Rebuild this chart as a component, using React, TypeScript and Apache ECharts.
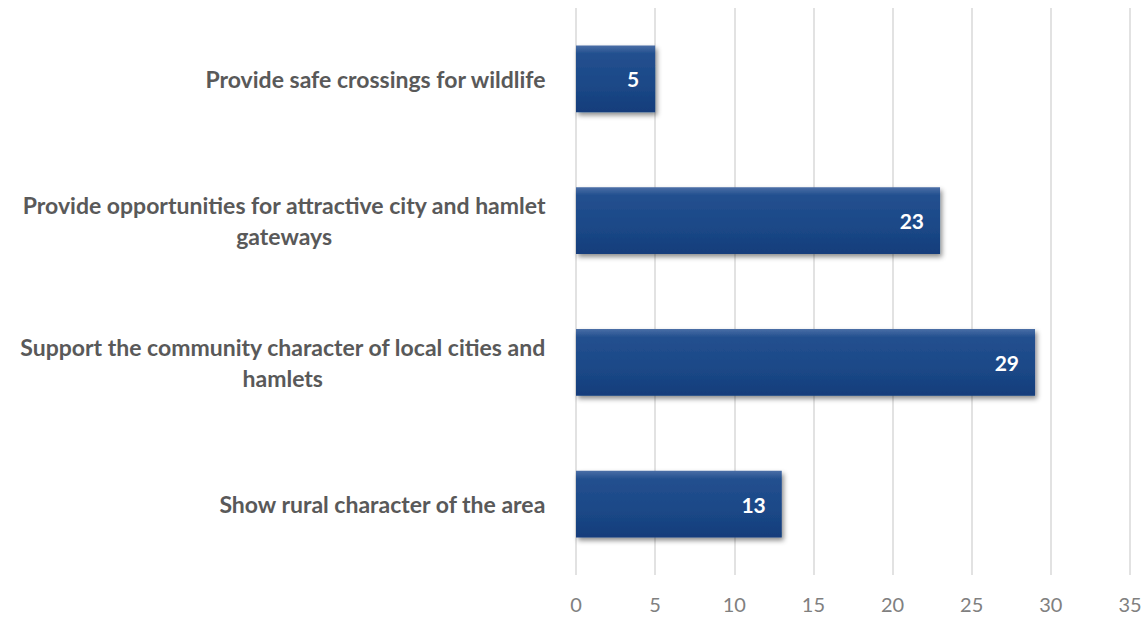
import React, { useEffect, useRef } from "react";
import * as echarts from "echarts";

const categories: string[] = [
  "Show rural character of the area",
  "Support the community character of local cities and hamlets",
  "Provide opportunities for attractive city and hamlet gateways",
  "Provide safe crossings for wildlife",
];
const values: number[] = [13, 29, 23, 5];
const xTicks = { min: 0, max: 35, interval: 5 };

function wrap(s: string, maxChars: number): string[] {
  const words = s.split(" ");
  const lines: string[] = [];
  let cur = "";
  for (const w of words) {
    const next = cur ? cur + " " + w : w;
    if (next.length > maxChars && cur) {
      lines.push(cur);
      cur = w;
    } else cur = next;
  }
  if (cur) lines.push(cur);
  return lines;
}

export default function App() {
  const ref = useRef<HTMLDivElement>(null);
  useEffect(() => {
    if (!ref.current) return;
    const chart = echarts.init(ref.current, null, { renderer: "svg" });
    chart.setOption({
      animation: false,
      backgroundColor: "#ffffff",
      grid: { left: 576, right: 17, top: 8, bottom: 43, containLabel: false },
      xAxis: {
        type: "value",
        min: xTicks.min,
        max: xTicks.max,
        interval: xTicks.interval,
        axisLine: { show: false },
        axisTick: { show: false },
        splitLine: { show: true, lineStyle: { color: "#d9d9d9", width: 1.5 } },
        axisLabel: {
          color: "#808080",
          fontFamily: "Lato, 'Noto Sans', sans-serif",
          fontSize: 20,
          margin: 19,
        },
      },
      yAxis: {
        type: "category",
        data: categories,
        axisLine: { show: false },
        axisTick: { show: false },
        splitLine: { show: false },
        axisLabel: {
          margin: 30,
          formatter: (v: string) =>
            wrap(v, 52)
              .map((l) => "{a|" + l + "}")
              .join("\n"),
          rich: {
            a: {
              align: "center",
              color: "#595959",
              fontFamily: "Lato, 'Noto Sans', sans-serif",
              fontWeight: "bold",
              fontSize: 23,
              lineHeight: 31,
            },
          },
        },
      },
      series: [
        {
          type: "bar",
          data: values,
          barWidth: "47%",
          itemStyle: {
            color: new echarts.graphic.LinearGradient(0, 0, 0, 1, [
              { offset: 0, color: "#4a6ea6" },
              { offset: 0.12, color: "#23508f" },
              { offset: 0.6, color: "#1b4887" },
              { offset: 1, color: "#143d7b" },
            ]),
            shadowBlur: 5,
            shadowOffsetX: 2,
            shadowOffsetY: 3,
            shadowColor: "rgba(0,0,0,0.45)",
          },
          label: {
            show: true,
            position: "insideRight",
            distance: 16,
            color: "#ffffff",
            fontFamily: "Lato, 'Noto Sans', sans-serif",
            fontWeight: "bold",
            fontSize: 21,
          },
        },
      ],
    });
    return () => chart.dispose();
  }, []);
  return (
    <div
      ref={ref}
      style={{ position: "absolute", left: 0, top: 0, width: 1147, height: 618 }}
    />
  );
}
